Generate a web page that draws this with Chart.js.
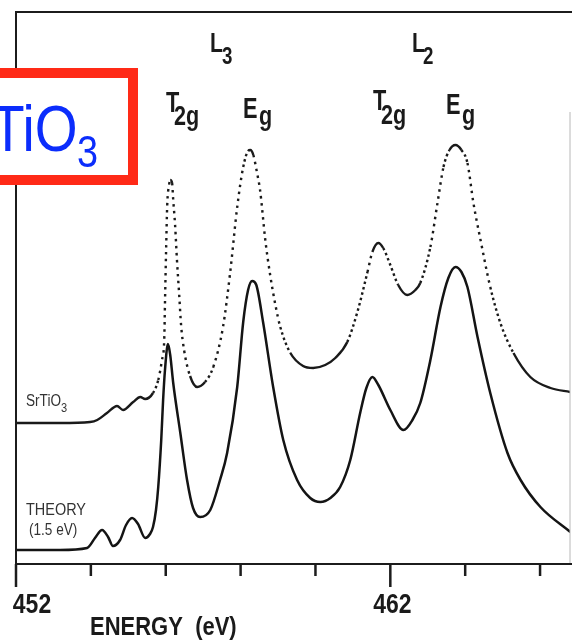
<!DOCTYPE html>
<html>
<head>
<meta charset="utf-8">
<script src="https://cdn.jsdelivr.net/npm/chart.js@4/dist/chart.umd.min.js"></script>
<style>
  html, body { margin: 0; padding: 0; background: #fff; }
  canvas { display: block; }
</style>
</head>
<body>
<canvas id="spectrum" width="572" height="641"></canvas>
<script>
// Ti L2,3 edge of SrTiO3: measured spectrum and multiplet theory
const expEnergy = [452.00, 453.18, 453.98, 454.17, 454.43, 454.70, 454.86, 455.13, 455.32, 455.45,
    455.66, 455.80, 455.90, 455.96, 455.98, 456.01, 456.04, 456.09, 456.12, 456.17,
    456.20, 456.25, 456.30, 456.36, 456.41, 456.49, 456.65, 456.84, 457.05, 457.27,
    457.53, 457.72, 457.91, 458.07, 458.20, 458.26, 458.34, 458.44, 458.52, 458.66,
    458.79, 458.93, 459.06, 459.33, 459.67, 459.94, 460.26, 460.53, 460.85, 461.12,
    461.39, 461.52, 461.68, 461.81, 462.00, 462.21, 462.45, 462.67, 462.80, 463.07,
    463.26, 463.42, 463.58, 463.74, 463.90, 464.06, 464.22, 464.41, 464.67, 464.94,
    465.29, 465.74, 466.28, 466.81];
const expIntensity = [28.2, 28.2, 28.4, 28.8, 30.2, 31.6, 30.8, 32.4, 33.4, 33.0,
    34.2, 36.8, 40.8, 44.8, 52.2, 62.8, 71.8, 75.8, 76.8, 76.2,
    72.8, 67.8, 60.8, 53.8, 47.8, 42.8, 37.6, 35.4, 36.4, 39.4,
    47.4, 58.2, 71.4, 79.4, 82.6, 82.8, 81.8, 78.2, 74.8, 64.8,
    57.8, 51.8, 47.4, 42.2, 39.6, 39.2, 39.8, 41.2, 44.4, 50.4,
    58.4, 62.4, 64.2, 63.2, 59.8, 55.8, 53.8, 54.8, 56.2, 63.4,
    72.2, 79.4, 82.8, 83.8, 82.8, 80.2, 72.2, 64.8, 55.4, 48.2,
    42.2, 37.4, 35.2, 34.4];

const theoryEnergy = [452.00, 453.18, 453.90, 454.11, 454.30, 454.46, 454.59, 454.78, 454.94, 455.10,
    455.26, 455.45, 455.58, 455.66, 455.74, 455.80, 455.88, 455.93, 455.98, 456.06,
    456.12, 456.20, 456.39, 456.57, 456.73, 456.92, 457.19, 457.45, 457.64, 457.91,
    458.07, 458.20, 458.31, 458.42, 458.60, 458.87, 459.14, 459.51, 459.86, 460.13,
    460.40, 460.66, 460.93, 461.20, 461.36, 461.52, 461.68, 462.00, 462.35, 462.59,
    462.80, 463.07, 463.34, 463.55, 463.74, 463.90, 464.06, 464.33, 464.67, 465.13,
    465.48, 466.01, 466.81];
const theoryIntensity = [2.8, 2.8, 3.2, 5.2, 6.8, 5.4, 3.6, 4.8, 7.8, 9.2,
    8.0, 5.2, 6.0, 7.4, 10.8, 15.4, 24.8, 32.8, 38.8, 44.0,
    41.8, 36.2, 26.2, 16.8, 11.2, 9.4, 10.8, 16.8, 22.2, 35.4,
    48.4, 54.8, 56.6, 55.8, 48.4, 35.4, 24.8, 16.8, 13.2, 12.4,
    13.2, 15.4, 20.8, 30.4, 35.2, 37.4, 35.8, 30.8, 26.8, 28.8,
    32.2, 40.8, 51.4, 57.2, 59.4, 58.4, 55.4, 45.4, 34.2, 22.2,
    16.8, 11.4, 6.4];

const energyTicks = [452, 454, 456, 458, 460, 462, 464, 466];
const labelledTicks = [452, 462];

const toPoints = (xs, ys) => xs.map((x, i) => ({ x: x, y: ys[i] }));

const FONT = '"Liberation Sans", Arial, sans-serif';

// text squeezed horizontally, like the narrow lettering of the original plot
function drawText(ctx, str, x, y, size, sx, color, align, weight) {
    ctx.save();
    ctx.translate(x, y);
    ctx.scale(sx, 1);
    ctx.font = (weight || 'normal') + ' ' + size + 'px ' + FONT;
    ctx.fillStyle = color;
    ctx.textAlign = align || 'left';
    ctx.textBaseline = 'alphabetic';
    ctx.fillText(str, 0, 0);
    const w = ctx.measureText(str).width * sx;
    ctx.restore();
    return w;
}

const framePlugin = {
    id: 'frame',
    beforeDraw(chart) {
        const ctx = chart.ctx;
        ctx.save();
        ctx.fillStyle = '#fff';
        ctx.fillRect(0, 0, chart.width, chart.height);
        ctx.restore();
    },
    afterDatasetsDraw(chart) {
        const ctx = chart.ctx;
        const area = chart.chartArea;
        const xs = chart.scales.x;
        ctx.save();

        // faint right edge
        ctx.strokeStyle = '#b8b8b8';
        ctx.lineWidth = 1;
        ctx.beginPath();
        ctx.moveTo(area.right, area.top + 100);
        ctx.lineTo(area.right, area.bottom);
        ctx.stroke();

        // top, left and bottom borders
        ctx.strokeStyle = '#1c1c1c';
        ctx.lineWidth = 2;
        ctx.beginPath();
        ctx.moveTo(chart.width, area.top);
        ctx.lineTo(area.left, area.top);
        ctx.lineTo(area.left, area.bottom);
        ctx.lineTo(chart.width, area.bottom);
        ctx.stroke();

        // tick marks, long ones where there is a number
        ctx.lineWidth = 2.5;
        energyTicks.forEach(e => {
            const px = xs.getPixelForValue(e);
            const len = labelledTicks.includes(e) ? 23 : 12;
            ctx.beginPath();
            ctx.moveTo(px, area.bottom);
            ctx.lineTo(px, area.bottom + len);
            ctx.stroke();
        });
        ctx.restore();

        const ink = '#1a1a1a';
        drawText(ctx, '452', xs.getPixelForValue(452) + 16, 613, 28, 0.82, ink, 'center', 'bold');
        drawText(ctx, '462', xs.getPixelForValue(462) + 2, 613, 28, 0.82, ink, 'center', 'bold');
        drawText(ctx, 'ENERGY  (eV)', 90, 635, 25, 0.88, ink, 'left', 'bold');

        // edge and crystal-field labels
        drawText(ctx, 'L', 210, 52, 27, 0.78, ink, 'left', 'bold');
        drawText(ctx, '3', 222, 64, 24, 0.78, ink, 'left', 'bold');
        drawText(ctx, 'L', 412, 52, 27, 0.78, ink, 'left', 'bold');
        drawText(ctx, '2', 423, 64, 24, 0.78, ink, 'left', 'bold');

        drawText(ctx, 'T', 166, 112, 29, 0.75, ink, 'left', 'bold');
        drawText(ctx, '2g', 174, 125, 27, 0.8, ink, 'left', 'bold');
        drawText(ctx, 'E', 243, 118, 29, 0.75, ink, 'left', 'bold');
        drawText(ctx, 'g', 259, 125, 27, 0.8, ink, 'left', 'bold');

        drawText(ctx, 'T', 373, 110, 29, 0.75, ink, 'left', 'bold');
        drawText(ctx, '2g', 381, 124, 27, 0.8, ink, 'left', 'bold');
        drawText(ctx, 'E', 446, 114, 29, 0.75, ink, 'left', 'bold');
        drawText(ctx, 'g', 462, 124, 27, 0.8, ink, 'left', 'bold');

        // curve names
        const grey = '#333';
        const w = drawText(ctx, 'SrTiO', 26, 406, 16, 0.85, grey);
        drawText(ctx, '3', 26 + w, 412, 13, 0.85, grey);
        drawText(ctx, 'THEORY', 26, 515, 17, 0.85, grey);
        drawText(ctx, '(1.5 eV)', 29, 535, 17, 0.8, grey);

        // boxed compound name in the corner
        ctx.save();
        ctx.fillStyle = '#fff';
        ctx.fillRect(-60, 73, 193, 107);
        ctx.strokeStyle = '#ff2a17';
        ctx.lineWidth = 10;
        ctx.strokeRect(-60, 73, 193, 107);
        ctx.restore();
        const blue = '#0b2dfc';
        drawText(ctx, 'SrTiO', 77.5, 151, 64, 0.86, blue, 'right');
        drawText(ctx, '3', 77, 167, 44, 0.86, blue);
    }
};

// measured points sit closely in energy, so steep stretches read as dots
function expDash(seg) {
    const dx = Math.abs(seg.p1.x - seg.p0.x);
    const dy = Math.abs(seg.p1.y - seg.p0.y);
    if (dy > 4 * dx) return [2.5, 4.5];
    if (dy > 1.8 * dx) return [2.5, 3];
    return undefined;
}

new Chart(document.getElementById('spectrum'), {
    type: 'line',
    data: {
        datasets: [
            {
                label: 'SrTiO3',
                data: toPoints(expEnergy, expIntensity),
                borderColor: '#1a1a1a',
                borderWidth: 2.4,
                pointRadius: 0,
                cubicInterpolationMode: 'monotone',
                segment: { borderDash: expDash }
            },
            {
                label: 'THEORY (1.5 eV)',
                data: toPoints(theoryEnergy, theoryIntensity),
                borderColor: '#141414',
                borderWidth: 2.5,
                pointRadius: 0,
                cubicInterpolationMode: 'monotone'
            }
        ]
    },
    options: {
        responsive: false,
        animation: false,
        devicePixelRatio: 1,
        layout: { padding: { left: 16, right: 2, top: 12, bottom: 77 } },
        plugins: {
            legend: { display: false },
            tooltip: { enabled: false }
        },
        scales: {
            x: { type: 'linear', min: 452, max: 466.8, display: false },
            y: { type: 'linear', min: 0, max: 110.4, display: false }
        }
    },
    plugins: [framePlugin]
});
</script>
</body>
</html>
